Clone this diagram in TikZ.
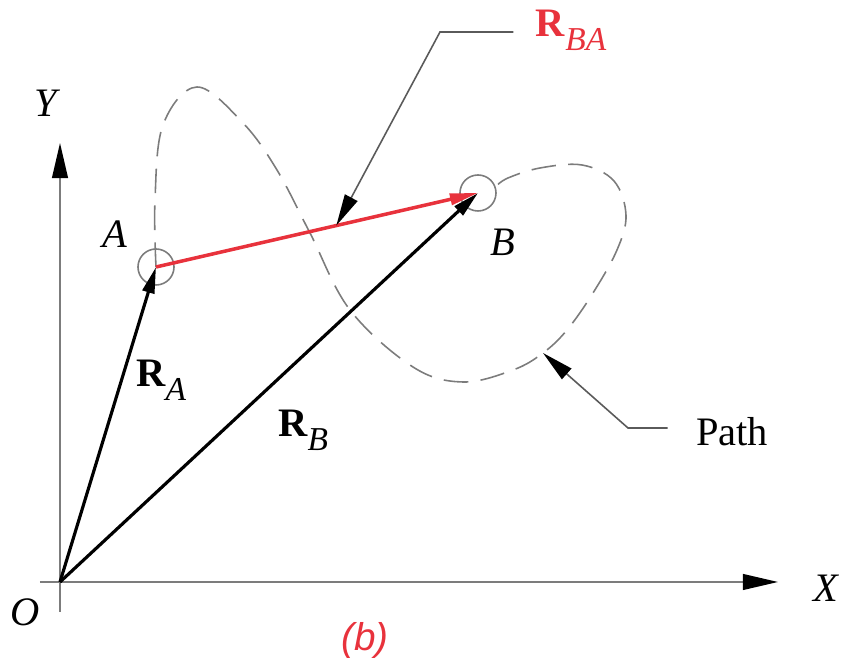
\documentclass[tikz,border=0pt]{standalone}
\usepackage{fontspec}
\setmainfont{Liberation Serif}
\newfontfamily\capfont{Liberation Sans}
\usepackage{xcolor}
\usetikzlibrary{arrows.meta,calc}
\definecolor{vecred}{HTML}{E8323C}
\definecolor{axisgray}{HTML}{7C7C7C}
\definecolor{leadgray}{HTML}{5A5A5A}
\newcommand{\vecR}[1]{\textbf{R}\raisebox{-0.75ex}{\fontsize{9.5}{9.5}\selectfont\itshape #1}}

\begin{document}
\begin{tikzpicture}[x=0.01cm,y=-0.01cm,font=\fontsize{11.5}{13}\selectfont,
  axis/.style={axisgray,line width=0.5pt,-{Triangle[length=10pt,width=4.5pt,color=black]}},
  vec/.style={black,line width=0.9pt,-{Triangle[length=7.5pt,width=3.4pt]}},
  rvec/.style={vecred,line width=1pt,-{Triangle[length=8pt,width=3.2pt]}},
  lead/.style={leadgray,line width=0.45pt,-{Triangle[length=9pt,width=4pt,color=black]}},
  pt/.style={circle,draw=axisgray,line width=0.45pt,minimum size=0.36cm,inner sep=0pt},
  pathline/.style={axisgray,line width=0.45pt,dash pattern=on 7pt off 3.5pt}]
  \useasboundingbox (0,0) rectangle (850,658);
  % axes
  \coordinate (O) at (60,582);
  \coordinate (xstart) at (40,582);
  \coordinate (xend) at (778,582);
  \coordinate (ystart) at (60,612);
  \coordinate (yend) at (60,143);
  \draw[axis] (xstart) -- (xend);
  \draw[axis] (ystart) -- (yend);
  \node (lX) at (826,588) {\itshape X};
  \node (lY) at (46,103) {\itshape Y};
  \node (lO) at (25,612) {\itshape O};
  % particle positions
  \node[pt] (A) at (156,267) {};
  \node[pt] (B) at (478,193) {};
  \node (lA) at (115,234) {\itshape A};
  \node (lB) at (503,242) {\itshape B};
  % path of the particle
  \draw[pathline] plot[smooth,tension=0.6] coordinates {(A.center) (155,200) (163,125) (197,87)
    (243,123) (277,170) (310,233) (350,310) (413,367) (463,382) (513,370) (543,353)
    (567,330) (593,293) (617,250) (626,215) (614,181) (582,165) (540,168) (508,178) (B.20)};
  % position vectors
  \draw[vec] (O) -- (A.center);
  \draw[vec] (O) -- (B.center);
  \draw[rvec] (A.center) -- coordinate[pos=0.56] (tipBA) (B.center);
  \node (lRA) at (161,380) {\vecR{A}};
  \node (lRB) at (303,430) {\vecR{B}};
  \node[vecred] (lRBA) at (571,30) {\vecR{BA}};
  \node (lpath) at (732,432) {Path};
  % leaders
  \coordinate (kneeBA) at (440,32);
  \coordinate (kneeP) at (628,428);
  \coordinate (tipP) at (543,353);
  \draw[lead] (kneeBA -| lRBA.west) ++(-10,0) -- (kneeBA) -- (tipBA);
  \draw[lead] (kneeP -| lpath.west) ++(-16,0) -- (kneeP) -- (tipP);
  \node[vecred,font=\capfont\itshape\fontsize{11}{13}\selectfont] (cap) at (365,640) {(b)};
\end{tikzpicture}
\end{document}
